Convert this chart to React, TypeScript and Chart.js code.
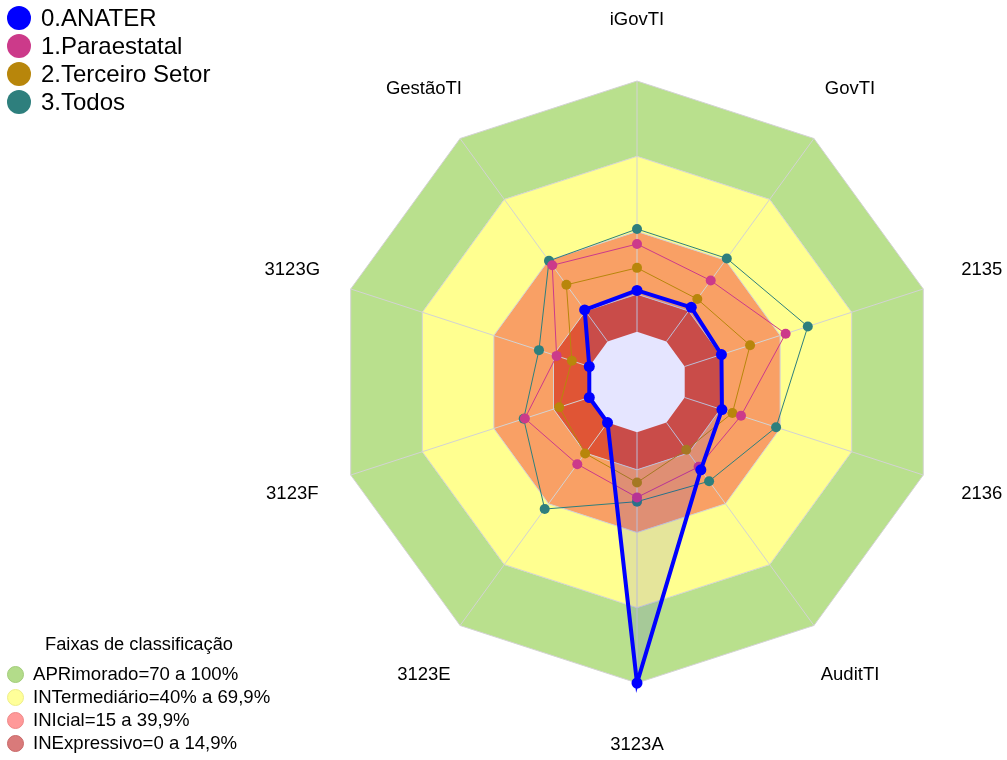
import React, { useEffect, useRef } from 'react';
import { Chart, registerables } from 'chart.js';

Chart.register(...registerables);

// ---- data ----
const axisLabels = ['iGovTI', 'GovTI', '2135', '2136', 'AuditTI', '3123A', '3123E', '3123F', '3123G', 'GestãoTI'];
const seriesNames = ['0.ANATER', '1.Paraestatal', '2.Terceiro Setor', '3.Todos'];
const anater = [16.5, 16.8, 15.4, 15.6, 23.3, 100, 0, 0, 0, 15.5];
const paraestatal = [35.0, 30.0, 42.3, 23.6, 21.8, 26.0, 20.5, 27.0, 13.7, 37.5];
const terceiroSetor = [25.5, 20.9, 27.4, 20.0, 13.4, 20.1, 15.2, 12.6, 7.3, 27.9];
const todos = [41.0, 40.9, 51.6, 38.3, 28.9, 27.7, 42.6, 27.5, 21.1, 39.7];
const bandLimits = [0, 15, 40, 70, 100];
const legendTitle = 'Faixas de classificação';
const bandNames = ['APRimorado=70 a 100%', 'INTermediário=40% a 69,9%', 'INIcial=15 a 39,9%', 'INExpressivo=0 a 14,9%'];
const gridValues = [15, 40, 70, 100];

// ---- styles ----
const seriesColors = ['#0000FF', '#CC3A8A', '#B8860B', '#2E7F7D'];
// band fill colours from inner (0-15) to outer (70-100)
const bandFill = ['#E05535', '#F9A065', '#FFFF90', '#B9E08D'];
const bandLegendColors = ['#B3DC8A', '#FFFF99', '#FF9999', '#D97A7A'];
const bandLegendBorders = ['#A2CC7A', '#EDED88', '#EE8888', '#C86868'];
const FONT = '"Liberation Sans", Arial, sans-serif';

const overlayPlugin = {
  id: 'overlay',
  afterDatasetDraw(chart: any, args: any) {
    if (args.index !== 4) return;
    const r = chart.scales.r;
    const ctx = chart.ctx;
    const n = axisLabels.length;
    ctx.save();
    ctx.strokeStyle = '#D3D3D3';
    ctx.lineWidth = 1;
    for (const v of gridValues) {
      ctx.beginPath();
      for (let i = 0; i < n; i++) {
        const p = r.getPointPositionForValue(i, v);
        if (i === 0) ctx.moveTo(p.x, p.y); else ctx.lineTo(p.x, p.y);
      }
      ctx.closePath();
      ctx.stroke();
    }
    for (let i = 0; i < n; i++) {
      const a = r.getPointPositionForValue(i, 0);
      const b = r.getPointPositionForValue(i, 100);
      ctx.beginPath();
      ctx.moveTo(a.x, a.y);
      ctx.lineTo(b.x, b.y);
      ctx.stroke();
    }
    ctx.restore();
  },
  afterDraw(chart: any) {
    const r = chart.scales.r;
    const ctx = chart.ctx;
    ctx.save();
    ctx.fillStyle = '#000';
    ctx.font = `18.5px ${FONT}`;
    ctx.textAlign = 'center';
    ctx.textBaseline = 'middle';
    axisLabels.forEach((lab, i) => {
      const p = r.getPointPositionForValue(i, 124.5);
      ctx.fillText(lab, p.x, p.y);
    });
    ctx.restore();
  },
};

export default function App() {
  const canvasRef = useRef<HTMLCanvasElement | null>(null);

  useEffect(() => {
    const prevMargin = document.body.style.margin;
    document.body.style.margin = '0';
    const canvas = canvasRef.current;
    if (!canvas) return;
    const seriesData = [anater, paraestatal, terceiroSetor, todos];
    const seriesDatasets = seriesData.map((d, k) => ({
      label: seriesNames[k],
      data: d,
      borderColor: seriesColors[k],
      borderWidth: k === 0 ? 4 : 1,
      backgroundColor: k === 0 ? 'rgba(0,0,255,0.1)' : 'transparent',
      fill: k === 0 ? 'start' : false,
      pointRadius: k === 0 ? 5.5 : 5,
      pointBackgroundColor: seriesColors[k],
      pointBorderColor: seriesColors[k],
      pointBorderWidth: 0,
      tension: 0,
    }));
    const bandDatasets = [1, 2, 3, 4].map((i) => ({
      label: 'band' + i,
      data: axisLabels.map(() => bandLimits[i]),
      borderWidth: 0,
      borderColor: 'transparent',
      backgroundColor: bandFill[i - 1],
      fill: { value: bandLimits[i - 1] },
      pointRadius: 0,
      pointHitRadius: 0,
    }));
    const chart = new Chart(canvas, {
      type: 'radar',
      data: { labels: axisLabels, datasets: [...seriesDatasets, ...bandDatasets] as any },
      options: {
        animation: false,
        responsive: true,
        maintainAspectRatio: false,
        events: [],
        layout: { padding: { left: 336, top: 81, right: 68, bottom: 76 } },
        plugins: { legend: { display: false }, tooltip: { enabled: false } },
        scales: {
          r: {
            display: false,
            min: -20,
            max: 100,
            startAngle: 0,
            ticks: { display: false },
            pointLabels: { display: false },
          },
        },
      } as any,
      plugins: [overlayPlugin],
    });
    return () => {
      chart.destroy();
      document.body.style.margin = prevMargin;
    };
  }, []);

  const topRows = [18, 46, 74, 102];
  const bottomRows = [674, 697, 720, 743];

  return (
    <div style={{ position: 'relative', width: 1007, height: 760, fontFamily: FONT, overflow: 'hidden' }}>
      <canvas ref={canvasRef} style={{ position: 'absolute', left: 0, top: 0 }} />
      <div style={{ position: 'absolute', left: 0, top: 0, width: 1007, height: 760, pointerEvents: 'none' }}>
        {seriesNames.map((name, k) => (
          <div key={name}>
            <div style={{ position: 'absolute', left: 19 - 12, top: topRows[k] - 12, width: 24, height: 24, borderRadius: '50%', background: seriesColors[k] }} />
            <div style={{ position: 'absolute', left: 41, top: topRows[k] - 14, height: 28, lineHeight: '28px', fontSize: 24, color: '#000', whiteSpace: 'nowrap' }}>{name}</div>
          </div>
        ))}
        <div style={{ position: 'absolute', left: 139 - 120, width: 240, top: 644 - 12, height: 24, lineHeight: '24px', fontSize: 18.3, textAlign: 'center', color: '#000', whiteSpace: 'nowrap' }}>{legendTitle}</div>
        {bandNames.map((name, k) => (
          <div key={name}>
            <div style={{ position: 'absolute', left: 15 - 8.5, top: bottomRows[k] - 8.5, width: 17, height: 17, boxSizing: 'border-box', borderRadius: '50%', background: bandLegendColors[k], border: `1px solid ${bandLegendBorders[k]}` }} />
            <div style={{ position: 'absolute', left: 33, top: bottomRows[k] - 12, height: 24, lineHeight: '24px', fontSize: 18.6, color: '#000', whiteSpace: 'nowrap' }}>{name}</div>
          </div>
        ))}
      </div>
    </div>
  );
}
